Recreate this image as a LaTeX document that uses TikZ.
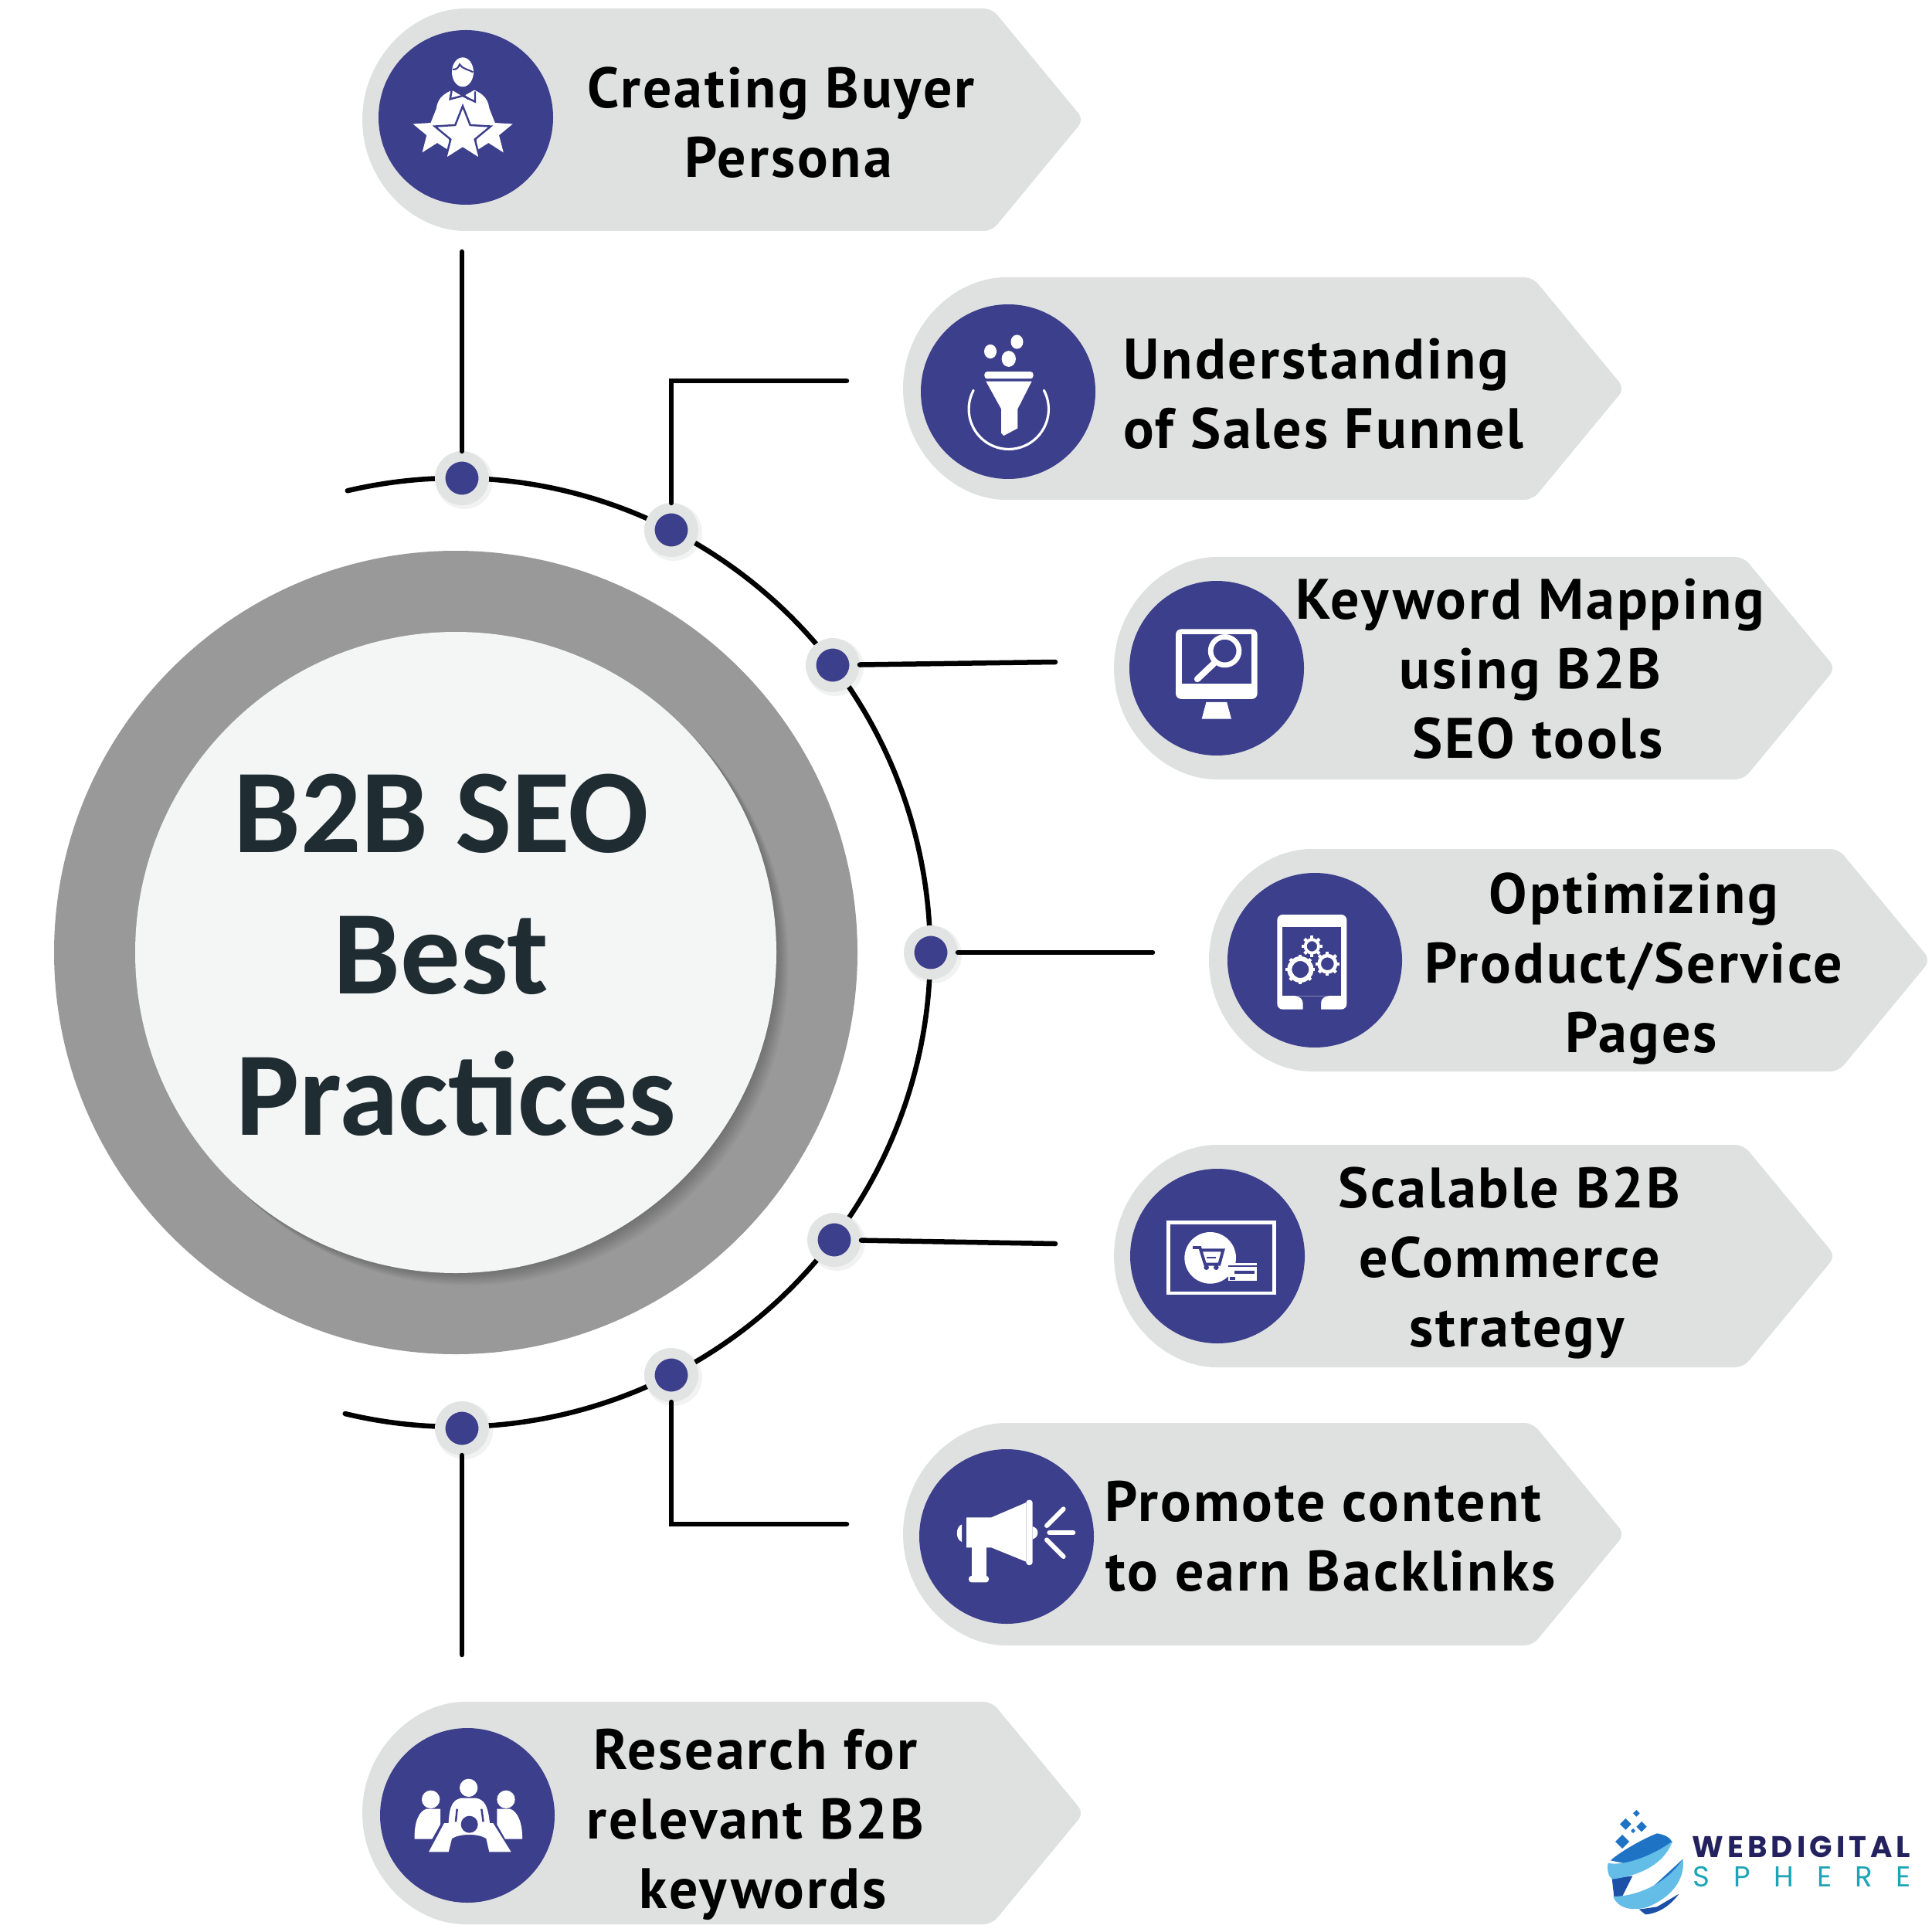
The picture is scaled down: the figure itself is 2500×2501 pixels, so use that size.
\documentclass[tikz,border=0pt]{standalone}
\usepackage{fontspec}
\newfontfamily\pillfont[LetterSpace=4.0]{PT Sans}
\newfontfamily\titlefont{Carlito}
\newfontfamily\logofont{Poppins}
\usetikzlibrary{shapes.geometric}
\definecolor{iconblue}{HTML}{3C3F8B}
\definecolor{pillgrey}{HTML}{DFE0E0}
\definecolor{ringgrey}{HTML}{999999}
\definecolor{discgrey}{HTML}{F4F5F5}
\definecolor{halogrey}{HTML}{E2E4E4}
\definecolor{titleink}{HTML}{1F2D33}
\definecolor{logonavy}{HTML}{23225F}
\definecolor{logoteal}{HTML}{1DA5B5}
\definecolor{logolight}{HTML}{63BDE6}
\definecolor{logomid}{HTML}{1E73C4}
\definecolor{logodark}{HTML}{1C4FA6}
\tikzstyle{badge} = [fill=iconblue]
\tikzstyle{glyph} = [fill=white]
\tikzstyle{cutout} = [fill=iconblue]
\tikzstyle{wire} = [line width=1.85pt, line cap=round, draw=black]
\tikzstyle{dot} = [circle, fill=iconblue, draw=halogrey, line width=3.84pt, inner sep=0pt, minimum size=16.07pt]
\tikzstyle{label} = [align=center, font=\pillfont\bfseries\fontsize{21}{25.6}\selectfont, text=black, inner sep=0pt]
\tikzstyle{iconstar} = [star, star points=5, star point ratio=2.3, fill=white, inner sep=0pt]
\tikzset{
  pill/.pic={
    \fill [pillgrey, rounded corners=3pt] (144,144) arc (90:270:144) -- (815,-144) -- (934,0) -- (815,144) -- cycle;
  }
}
\newcommand{\nudge}{\hspace*{5.4pt}}
\newcommand{\gearicon}[4]{
  \draw [white, line width=#4] (#1,#2) circle (#3);
  \foreach \a in {0,45,...,315}
    \draw [white, line width=1.2pt] (#1,#2) ++(\a:#3+5) -- ++(\a:10);
}
\begin{document}
\begin{tikzpicture}[x=0.01cm,y=-0.01cm]
\useasboundingbox (0,0) rectangle (2500,2501);
\pic at (469,155) {pill};
\pic at (1169,503) {pill};
\pic at (1442,865) {pill};
\pic at (1565,1243) {pill};
\pic at (1442,1626) {pill};
\pic at (1169,1986) {pill};
\pic at (469,2347) {pill};
\fill [badge] (603,152) circle (113);
\fill [badge] (1305,507) circle (113);
\fill [badge] (1575,865) circle (113);
\fill [badge] (1702,1243) circle (113);
\fill [badge] (1576,1626) circle (113);
\fill [badge] (1303,1989) circle (113);
\fill [badge] (605,2350) circle (113);
\fill [ringgrey] (590,1233) circle (520);
\foreach \s in {2,4,...,20}
  \fill [black, opacity=0.025] (590+0.8*\s,1233+0.8*\s) circle (415);
\fill [discgrey] (590,1233) circle (415);
\node (title) [align=center, text=titleink, inner sep=0pt, font=\titlefont\bfseries\fontsize{44}{52}\selectfont] at (571,1236) {B2B SEO\\Best\\\hspace*{11pt}Practices};
\draw [line width=1.85pt, line cap=round] (590,1233) ++(-103.2:614) arc (-103.2:103.5:614);
\foreach \x/\y in {598/619,869/686,1078/861,1205/1233,1080/1605,869/1780,598/1849}
  \fill [black, opacity=0.05] (\x+3,\y+3) circle (37);
\node (dot1) [dot] at (598,619) {};
\node (dot2) [dot] at (869,686) {};
\node (dot3) [dot] at (1078,861) {};
\node (dot4) [dot] at (1205,1233) {};
\node (dot5) [dot] at (1080,1605) {};
\node (dot6) [dot] at (869,1780) {};
\node (dot7) [dot] at (598,1849) {};
\coordinate (end1) at (598,326);
\coordinate (bend2) at (869,493);
\coordinate (end2) at (1096,493);
\coordinate (end3) at (1366,857);
\coordinate (end4) at (1492,1233);
\coordinate (end5) at (1366,1610);
\coordinate (bend6) at (869,1973);
\coordinate (end6) at (1096,1973);
\coordinate (end7) at (598,2142);
\draw [wire] (dot1) -- (end1);
\draw [wire] (dot2) -- (bend2) -- (end2);
\draw [wire] (dot3) -- (end3);
\draw [wire] (dot4) -- (end4);
\draw [wire] (dot5) -- (end5);
\draw [wire] (dot6) -- (bend6) -- (end6);
\draw [wire] (dot7) -- (end7);
\node (persona) [label] at (1011,159) {Creating Buyer\\\nudge Persona};
\node (funnel) [label] at (1704,510) {Understanding\\\nudge of Sales Funnel};
\node (mapping) [label] at (1981,866) {Keyword Mapping\\using B2B\\\nudge SEO tools};
\node (pages) [label] at (2115,1254) {Optimizing\\Product/Service\\\nudge Pages};
\node (ecommerce) [label] at (1954,1635) {Scalable B2B\\eCommerce\\\nudge strategy};
\node (content) [label] at (1713,1989) {Promote content\\\nudge to earn Backlinks};
\node (keywords) [label] at (978,2362) {Research for\\relevant B2B\\\nudge keywords};
% persona icon
\begin{scope}[shift={(460,0)},scale=1/3]
\fill [glyph] (417,280) ellipse (42 and 57);
\draw [iconblue, line width=0.6pt] (378,270) .. controls (395,270) and (400,262) .. (405,250) .. controls (415,268) and (440,270) .. (457,280);
\fill [glyph] (315,420) .. controls (320,375) and (355,360) .. (375,350) -- (417,375) -- (462,350) .. controls (490,362) and (515,380) .. (520,420) -- (500,480) -- (335,480) -- cycle;
\draw [iconblue, line width=0.7pt] (375,345) -- (368,385) -- (417,372) -- (465,395) -- (465,355);
\draw [iconblue, line width=0.7pt] (390,345) -- (440,385);
\node (star1) [iconstar, minimum size=0.66cm] at (318,512) {};
\node (star2) [iconstar, minimum size=0.66cm] at (517,512) {};
\node (star3) [iconstar, minimum size=0.76cm, draw=iconblue, line width=0.7pt] at (417,526) {};
\end{scope}
% funnel icon
\begin{scope}[shift={(1150,370)},xscale=0.3827,yscale=0.4146]
\fill [glyph] (345,205) ellipse (21 and 22);
\fill [glyph] (435,175) ellipse (21 and 22);
\fill [glyph] (407,228) ellipse (24 and 25);
\fill [glyph, rounded corners=1pt] (325,268) rectangle (490,290);
\fill [glyph] (330,298) -- (485,298) -- (437,385) -- (437,445) -- (390,468) -- (382,460) -- (382,385) -- cycle;
\draw [white, line width=0.9pt, line cap=round] (407,385) ++(208:135 and 125) arc (208:-28:135 and 125);
\end{scope}
% monitor icon
\begin{scope}[shift={(1150,370)},xscale=0.3827,yscale=0.4146]
\fill [glyph, rounded corners=2pt] (972,1072) rectangle (1248,1290);
\fill [cutout] (992,1088) rectangle (1228,1242);
\draw [white, line width=1.9pt] (1138,1140) ellipse (48 and 44);
\draw [white, line width=2.3pt, line cap=round] (1100,1180) -- (1045,1228);
\fill [glyph] (1075,1300) -- (1145,1300) -- (1160,1352) -- (1060,1352) -- cycle;
\end{scope}
% tablet icon
\begin{scope}[shift={(1550,1100)},scale=1/3]
\fill [glyph, rounded corners=2pt] (310,252) rectangle (580,620);
\fill [cutout] (330,300) rectangle (558,568);
\fill [cutout] (410,622) -- (410,595) .. controls (408,575) and (395,570) .. (380,568) -- (510,568) .. controls (495,570) and (480,575) .. (480,595) -- (480,622) -- cycle;
\gearicon{400}{465}{42}{1.7pt}
\gearicon{445}{375}{26}{1.1pt}
\gearicon{505}{443}{32}{1.3pt}
\end{scope}
% cart icon
\begin{scope}[shift={(1450,1500)},scale=1/3]
\draw [white, line width=1.3pt] (187,247) rectangle (598,522);
\fill [glyph] (350,385) circle (100);
\fill [glyph] (420,405) rectangle (530,475);
\fill [cutout] (420,414) rectangle (530,420);
\fill [cutout] (445,434) rectangle (522,448);
\fill [cutout] (425,458) rectangle (447,470);
\draw [iconblue, line width=1.1pt] (282,345) -- (310,345) -- (330,410) -- (385,410) -- (400,355) -- (312,355);
\fill [cutout] (335,380) rectangle (372,388);
\fill [cutout] (335,422) circle (10);
\fill [cutout] (373,422) circle (10);
\end{scope}
% megaphone icon
\begin{scope}[shift={(1180,1870)},scale=1/3]
\fill [glyph] (195,310) .. controls (170,320) and (170,368) .. (195,378) -- cycle;
\fill [glyph] (213,283) -- (310,283) -- (445,225) -- (445,455) -- (310,400) -- (213,400) -- cycle;
\fill [glyph, rounded corners=1pt] (445,215) rectangle (470,468);
\fill [glyph] (470,318) .. controls (497,325) and (497,358) .. (470,368) -- cycle;
\fill [glyph] (233,400) rectangle (290,515);
\fill [glyph, rounded corners=1pt] (222,510) rectangle (300,535);
\draw [white, line width=1.7pt, line cap=round] (525,315) -- (590,250);
\draw [white, line width=1.7pt, line cap=round] (535,342) -- (628,342);
\draw [white, line width=1.7pt, line cap=round] (525,370) -- (590,435);
\end{scope}
% meeting icon
\begin{scope}[shift={(470,2230)},scale=1/3]
\fill [glyph] (263,298) circle (35);
\fill [glyph] (410,253) circle (35);
\fill [glyph] (555,298) circle (35);
\fill [glyph] (200,452) .. controls (198,390) and (215,345) .. (245,335) -- (300,335) -- (300,395) -- (268,452) -- cycle;
\fill [glyph] (618,452) .. controls (620,390) and (600,345) .. (572,335) -- (520,335) -- (520,395) -- (552,452) -- cycle;
\fill [glyph] (332,390) .. controls (335,320) and (350,300) .. (380,293) -- (440,293) .. controls (470,300) and (485,320) .. (492,390) -- cycle;
\draw [iconblue, line width=0.7pt] (365,335) -- (360,385);
\draw [iconblue, line width=0.7pt] (460,335) -- (467,385);
\fill [glyph] (255,502) -- (315,390) -- (385,390) -- (440,390) -- (505,390) -- (575,502) -- (490,502) -- (478,450) .. controls (450,430) and (375,430) .. (345,450) -- (332,502) -- cycle;
\fill [cutout] (413,395) circle (33);
\end{scope}
% logo
\begin{scope}[shift={(2050,2320)},scale=1/3]
\foreach \x/\y/\r in {205/82/13,163/124/22,225/134/20,192/150/9,150/192/27}
  \fill [logomid] (\x-\r,\y) -- (\x,\y-\r) -- (\x+\r,\y) -- (\x,\y+\r) -- cycle;
\fill [logomid] (105,265) .. controls (130,240) and (220,185) .. (285,160) .. controls (315,165) and (335,175) .. (345,195) -- (200,285) -- cycle;
\fill [logodark] (110,335) -- (190,325) -- (150,405) -- (118,405) -- cycle;
\fill [logolight] (95,275) .. controls (160,290) and (280,240) .. (345,190) .. controls (320,260) and (250,320) .. (110,338) .. controls (95,325) and (90,300) .. (95,275) -- cycle;
\fill [logomid] (260,375) -- (385,260) .. controls (385,300) and (365,350) .. (320,385) -- cycle;
\fill [logodark] (215,455) -- (285,445) -- (370,395) .. controls (345,430) and (300,470) .. (240,475) -- cycle;
\fill [logolight] (115,405) .. controls (200,405) and (320,360) .. (385,260) .. controls (395,320) and (360,400) .. (250,445) .. controls (190,465) and (130,450) .. (115,405) -- cycle;
\end{scope}
\node (brand) [anchor=west, inner sep=0pt, text=logonavy, font=\logofont\bfseries\fontsize{11}{12}\selectfont] at (2190,2391) {\addfontfeature{LetterSpace=13}WEBDIGITAL};
\node (sphere) [anchor=west, inner sep=0pt, text=logoteal, font=\logofont\fontsize{10.6}{12}\selectfont] at (2191,2429) {\makebox[2.82cm][s]{S\hfill P\hfill H\hfill E\hfill R\hfill E}};
\end{tikzpicture}
\end{document}
